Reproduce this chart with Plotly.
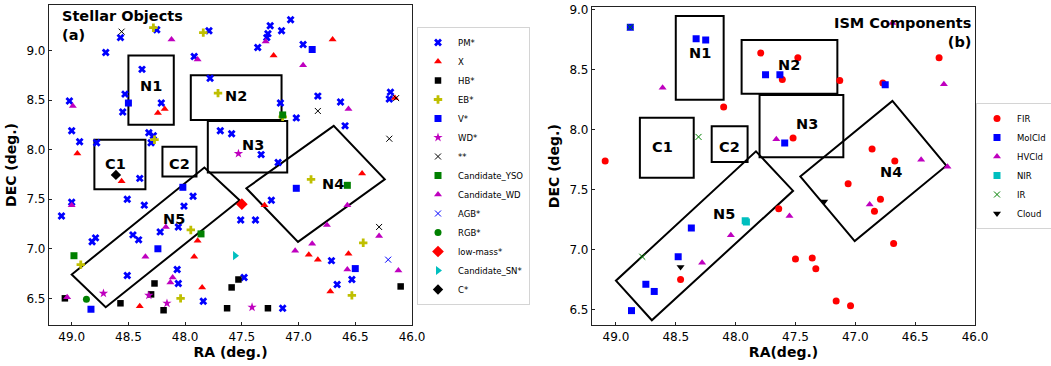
import plotly.graph_objects as go

# ---------------- Panel (a): Stellar objects (RA, DEC) ----------------
pm_ra = [48.57, 48.70, 48.25, 47.79, 47.92, 48.38, 47.78, 49.02, 48.53, 48.55, 48.21, 49.00, 48.93, 48.78,
         48.32, 48.28, 48.30, 47.69, 47.59, 47.07, 47.25, 47.15, 47.27, 47.28, 47.36, 46.96, 47.16, 47.02,
         46.83, 46.63, 46.59, 46.19, 46.20, 47.33, 47.18, 48.40, 47.93, 48.01, 48.51, 48.36, 49.00, 49.09,
         48.06, 48.22, 48.46, 48.41, 48.79, 48.82, 48.07, 48.51, 48.06, 47.84, 47.24, 47.51, 47.38, 46.71,
         46.53, 46.66, 47.48, 47.14]
pm_dec = [9.13, 8.98, 9.21, 9.20, 8.94, 8.81, 8.72, 8.49, 8.56, 8.38, 8.47, 8.19, 8.08, 8.07,
          8.17, 8.14, 8.07, 8.19, 8.16, 9.31, 9.25, 9.20, 9.17, 9.13, 9.03, 9.06, 8.47, 8.32,
          8.54, 8.48, 8.24, 8.58, 8.51, 7.95, 7.87, 7.71, 7.53, 7.43, 7.50, 7.44, 7.47, 7.33,
          7.22, 7.17, 7.14, 7.09, 7.11, 7.07, 6.79, 6.73, 6.65, 6.47, 7.49, 7.29, 7.29, 6.88,
          6.69, 6.64, 6.71, 6.40]
x_ra = [48.18, 48.24, 48.95, 47.22, 46.70, 46.15, 48.56, 47.89, 47.92, 47.85, 48.40, 46.44, 47.30,
        46.91, 46.83, 46.56, 46.72]
x_dec = [8.41, 8.37, 7.96, 8.95, 9.11, 8.52, 7.68, 7.08, 6.92, 6.61, 6.42, 7.76, 7.44,
         6.94, 6.89, 6.95, 6.57]
hb_ra = [49.06, 48.57, 48.30, 48.27, 48.19, 47.63, 47.59, 47.53, 47.27, 46.10]
hb_dec = [6.50, 6.45, 6.54, 6.65, 6.38, 6.40, 6.61, 6.69, 6.40, 6.62]
eb_ra = [48.28, 47.84, 47.71, 48.27, 47.14, 47.95, 48.92, 48.04, 46.89, 46.43, 46.53]
eb_dec = [9.23, 9.18, 8.57, 8.10, 8.33, 7.19, 6.84, 6.50, 7.70, 7.06, 6.53]
v_ra = [48.50, 46.88, 48.02, 48.24, 48.83, 47.02, 46.50]
v_dec = [8.47, 9.01, 7.62, 7.00, 6.39, 7.61, 6.80]
wd_ra = [47.53, 48.72, 48.32, 48.16, 47.41]
wd_dec = [7.96, 6.55, 6.53, 6.45, 6.41]
dbl_ra = [48.56, 46.83, 46.14, 46.20, 46.29]
dbl_dec = [9.19, 8.39, 8.52, 8.11, 7.22]
yso_ra = [47.14, 48.98, 47.86, 46.57]
yso_dec = [8.35, 6.93, 7.15, 7.64]
cwd_ra = [48.12, 47.89, 48.99, 47.29, 46.96, 46.56, 49.00, 48.17, 48.35, 48.11, 48.13, 49.04,
          46.57, 46.75, 46.29, 46.88, 47.03, 46.57, 46.12]
cwd_dec = [9.11, 8.91, 8.44, 9.09, 8.85, 8.41, 7.44, 7.22, 6.92, 6.71, 6.66, 6.51,
           7.44, 7.24, 7.13, 7.05, 6.98, 6.79, 6.78]
agb_ra, agb_dec = [46.21], [6.89]
rgb_ra, rgb_dec = [48.87], [6.49]
lm_ra, lm_dec = [47.50], [7.45]
sn_ra, sn_dec = [47.56], [6.93]
c_ra, c_dec = [48.61], [7.745]

# ---------------- Panel (b): ISM components ----------------
fir_ra = [48.10, 49.09, 47.79, 47.61, 47.48, 47.13, 46.77, 46.30, 47.52, 46.86, 46.67, 47.06,
          46.79, 46.84, 46.68, 47.64, 48.46, 47.50, 47.36, 47.33, 47.16, 47.04]
fir_dec = [8.19, 7.74, 8.64, 8.42, 8.60, 8.41, 8.39, 8.60, 7.93, 7.84, 7.74, 7.55,
           7.42, 7.32, 7.05, 7.34, 6.75, 6.92, 6.93, 6.84, 6.57, 6.53]
mol_ra = [48.88, 48.33, 48.25, 47.75, 47.63, 46.75, 47.59, 48.37, 48.48, 48.75, 48.68, 48.87]
mol_dec = [8.856, 8.76, 8.75, 8.46, 8.46, 8.375, 7.89, 7.18, 6.94, 6.71, 6.65, 6.49]
hvc_ra = [48.61, 46.69, 46.26, 47.66, 46.45, 46.23, 46.88, 47.55, 48.04, 48.28]
hvc_dec = [8.35, 8.89, 8.38, 7.92, 7.75, 7.69, 7.375, 7.28, 7.12, 6.89]
nir_ra, nir_dec = [47.92, 47.91], [7.24, 7.23]
ir_ra, ir_dec = [48.88, 48.31, 48.78], [8.856, 7.94, 6.94]
cld_ra, cld_dec = [47.26, 48.46], [7.40, 6.855]

# ---------------- Regions ----------------
rect_names = ["N1", "N2", "N3", "C1", "C2"]
rect_ra0 = [48.50, 47.95, 47.80, 48.80, 48.20]
rect_ra1 = [48.10, 47.15, 47.10, 48.35, 47.90]
rect_dec0 = [8.25, 8.30, 7.77, 7.60, 7.73]
rect_dec1 = [8.95, 8.75, 8.29, 8.10, 8.03]
n4_ra = [47.46, 46.69, 46.24, 47.005]
n4_dec = [7.61, 8.24, 7.70, 7.07]
n5_ra = [49.00, 48.70, 47.52, 47.83]
n5_dec = [6.74, 6.41, 7.49, 7.82]
label_names = ["N1", "N2", "N3", "C1", "C2", "N4", "N5"]
label_ra = [48.30, 47.55, 47.40, 48.61, 48.05, 46.70, 48.10]
label_dec = [8.64, 8.54, 8.05, 7.855, 7.855, 7.65, 7.30]

FONT = "DejaVu Sans"
fig = go.Figure()

def add(ra, dec, name, symbol, color, size, axis, legend, lw=0, open_sym=False):
    mk = dict(symbol=symbol, color=color, size=size)
    if open_sym:
        mk["line"] = dict(color=color, width=lw)
    else:
        mk["line"] = dict(width=0)
    fig.add_trace(go.Scatter(x=ra, y=dec, mode="markers", name=name, marker=mk,
                             xaxis="x" if axis == 1 else "x2", yaxis="y" if axis == 1 else "y2",
                             legend=legend))

B, R, K, Y, M, G, C = "#0000ff", "#ff0000", "#000000", "#bfbf00", "#bf00bf", "#008000", "#00bfbf"
add(pm_ra, pm_dec, "PM*", "x", B, 7, 1, "legend")
add(x_ra, x_dec, "X", "triangle-up", R, 7, 1, "legend")
add(hb_ra, hb_dec, "HB*", "square", K, 6.5, 1, "legend")
add(eb_ra, eb_dec, "EB*", "cross", Y, 7, 1, "legend")
add(v_ra, v_dec, "V*", "square", B, 7, 1, "legend")
add(wd_ra, wd_dec, "WD*", "star", M, 7, 1, "legend")
add(dbl_ra, dbl_dec, "**", "x-thin-open", K, 6, 1, "legend", lw=1, open_sym=True)
add(yso_ra, yso_dec, "Candidate_YSO", "square", G, 7, 1, "legend")
add(cwd_ra, cwd_dec, "Candidate_WD", "triangle-up", M, 7, 1, "legend")
add(agb_ra, agb_dec, "AGB*", "x-thin-open", B, 6, 1, "legend", lw=1, open_sym=True)
add(rgb_ra, rgb_dec, "RGB*", "circle", G, 7, 1, "legend")
add(lm_ra, lm_dec, "low-mass*", "diamond", R, 9, 1, "legend")
add(sn_ra, sn_dec, "Candidate_SN*", "triangle-right", C, 8, 1, "legend")
add(c_ra, c_dec, "C*", "diamond", K, 8, 1, "legend")

add(fir_ra, fir_dec, "FIR", "circle", R, 7, 2, "legend2")
add(mol_ra, mol_dec, "MolCld", "square", B, 7, 2, "legend2")
add(hvc_ra, hvc_dec, "HVCld", "triangle-up", M, 7, 2, "legend2")
add(nir_ra, nir_dec, "NIR", "square", C, 7, 2, "legend2")
add(ir_ra, ir_dec, "IR", "x-thin-open", G, 6, 2, "legend2", lw=1, open_sym=True)
add(cld_ra, cld_dec, "Cloud", "triangle-down", K, 7, 2, "legend2")

shapes = []
annotations = []
for ax in ("", "2"):
    xr, yr = "x" + ax, "y" + ax
    for i in range(len(rect_names)):
        shapes.append(dict(type="rect", xref=xr, yref=yr, x0=rect_ra0[i], x1=rect_ra1[i],
                           y0=rect_dec0[i], y1=rect_dec1[i], line=dict(color="black", width=2),
                           layer="below"))
    for ra, dec in ((n4_ra, n4_dec), (n5_ra, n5_dec)):
        path = "M " + " L ".join(f"{a},{d}" for a, d in zip(ra, dec)) + " Z"
        shapes.append(dict(type="path", xref=xr, yref=yr, path=path,
                           line=dict(color="black", width=2), layer="below"))
    for n, a, d in zip(label_names, label_ra, label_dec):
        annotations.append(dict(x=a, y=d, xref=xr, yref=yr, text=f"<b>{n}</b>", showarrow=False,
                                font=dict(family=FONT, size=14.5, color="black")))

annotations.append(dict(x=60 / 1051, y=1 - 6 / 366, xref="paper", yref="paper", xanchor="left",
                        yanchor="top", align="left", showarrow=False,
                        text="<b>Stellar Objects</b><br><b>(a)</b>",
                        font=dict(family=FONT, size=14.5, color="black")))
annotations.append(dict(x=973 / 1051, y=1 - 13 / 366, xref="paper", yref="paper", xanchor="right",
                        yanchor="top", align="right", showarrow=False,
                        text="<b>ISM Components</b><br><b>(b)</b>",
                        font=dict(family=FONT, size=14.5, color="black")))

axis_common = dict(showgrid=False, zeroline=False, showline=True, mirror=True, linecolor="#222",
                   linewidth=1.2, ticks="inside", ticklen=3, tickcolor="#222", dtick=0.5,
                   tickformat=".1f", tickfont=dict(family=FONT, size=12, color="black"),
                   title_font=dict(family=FONT, size=14, color="black"), automargin=False)

fig.update_layout(
    width=1051, height=366, autosize=False,
    margin=dict(l=0, r=0, t=0, b=0, autoexpand=False),
    paper_bgcolor="white", plot_bgcolor="white",
    font=dict(family=FONT),
    xaxis=dict(domain=[49 / 1051, 412 / 1051], range=[49.2, 46.0], tick0=46.0,
               title=dict(text="<b>RA (deg.)</b>", standoff=4), anchor="y", **axis_common),
    yaxis=dict(domain=[1 - 325 / 366, 1 - 5 / 366], range=[6.231, 9.459], tick0=6.5,
               title=dict(text="<b>DEC (deg.)</b>", standoff=6), anchor="x", **axis_common),
    xaxis2=dict(domain=[592 / 1051, 975 / 1051], range=[49.2, 46.0], tick0=46.0,
                title=dict(text="<b>RA(deg.)</b>", standoff=4), anchor="y2", **axis_common),
    yaxis2=dict(domain=[1 - 325 / 366, 1 - 7.3 / 366], range=[6.37, 9.022], tick0=6.5,
                title=dict(text="<b>DEC (deg.)</b>", standoff=6), anchor="x2", **axis_common),
    legend=dict(x=417 / 1051, y=1 - 166 / 366, xanchor="left", yanchor="middle",
                bgcolor="rgba(255,255,255,0.85)", bordercolor="#d4d4d4", borderwidth=1,
                font=dict(family=FONT, size=8.5, color="black"), itemsizing="trace"),
    legend2=dict(x=976 / 1051, y=1 - 166 / 366, xanchor="left", yanchor="middle",
                 bgcolor="rgba(255,255,255,0.85)", bordercolor="#d4d4d4", borderwidth=1,
                 font=dict(family=FONT, size=8.5, color="black"), itemsizing="trace"),
    shapes=shapes, annotations=annotations,
)

fig.write_html("out.html", config={"displayModeBar": False},
               post_script="document.body.style.margin='0px';")
